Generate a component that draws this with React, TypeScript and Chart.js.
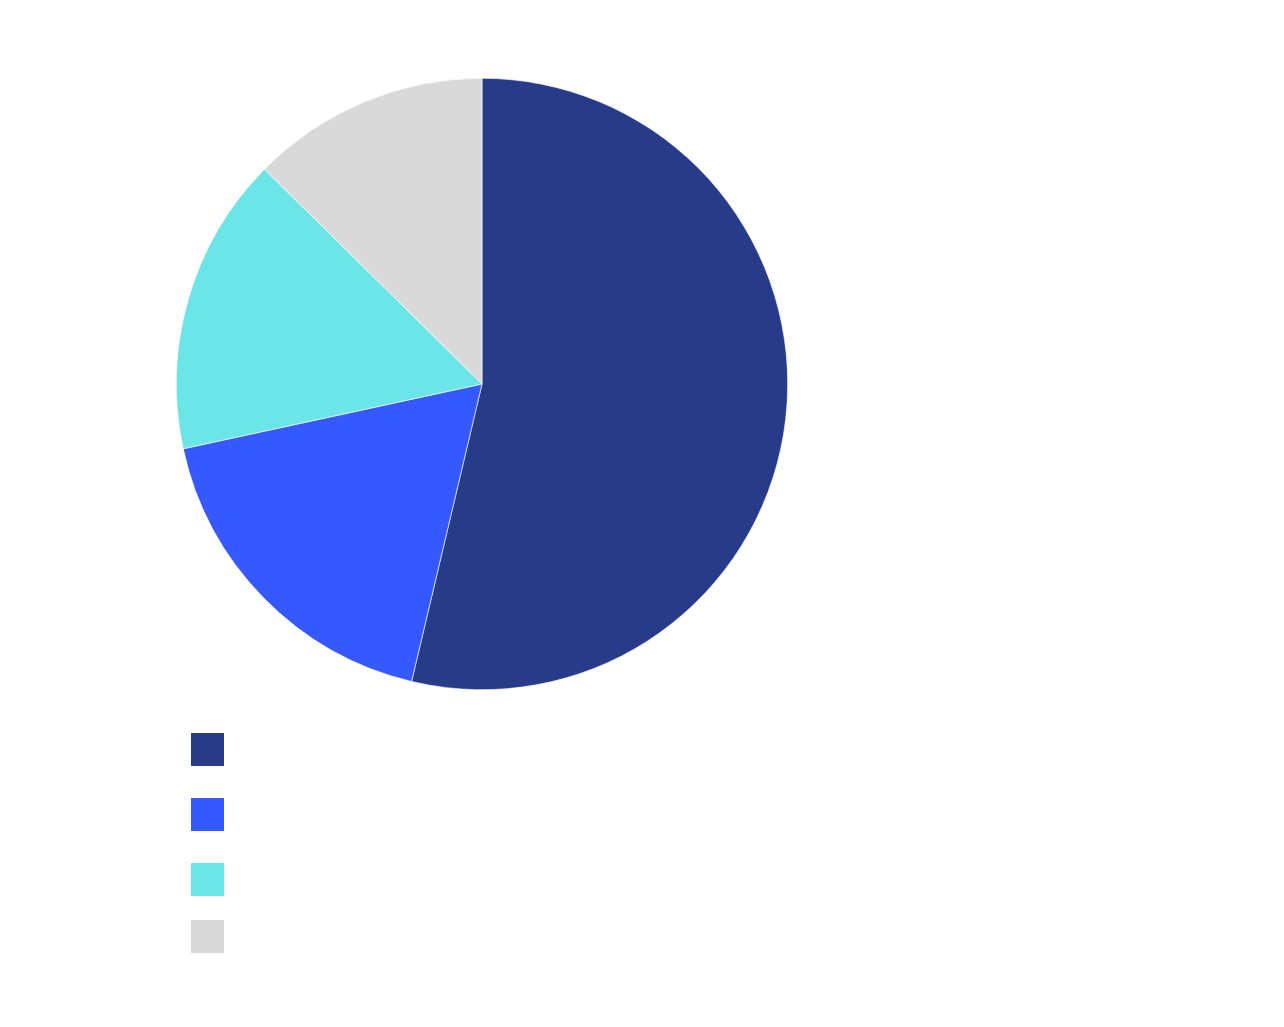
import React, { useEffect, useRef } from "react";
import { Chart, registerables } from "chart.js";

Chart.register(...registerables);

const categories = ["A", "B", "C", "D"];
const values = [53.7, 17.9, 15.8, 12.6];
const colors = ["#283B89", "#3558FF", "#6CE5E8", "#D9D9D9"];

const legendTops = [733, 798, 863, 920];

export default function App() {
  const ref = useRef<HTMLCanvasElement | null>(null);

  useEffect(() => {
    if (!ref.current) return;
    const chart = new Chart(ref.current, {
      type: "pie",
      data: {
        labels: categories,
        datasets: [
          {
            data: values,
            backgroundColor: colors,
            borderColor: "#ffffff",
            borderWidth: 0.6,
          },
        ],
      },
      options: {
        responsive: false,
        animation: false,
        layout: { padding: 5 },
        plugins: {
          legend: { display: false },
          tooltip: { enabled: false },
        },
      },
    });
    return () => chart.destroy();
  }, []);

  return (
    <div style={{ position: "absolute", left: 0, top: 0, width: 1284, height: 1027, background: "#fff" }}>
      <canvas
        ref={ref}
        width={622}
        height={622}
        style={{ position: "absolute", left: 171, top: 73, width: 622, height: 622 }}
      />
      {colors.map((c, i) => (
        <div
          key={categories[i]}
          style={{
            position: "absolute",
            left: 191,
            top: legendTops[i],
            width: 33,
            height: 33,
            background: c,
          }}
        />
      ))}
    </div>
  );
}
